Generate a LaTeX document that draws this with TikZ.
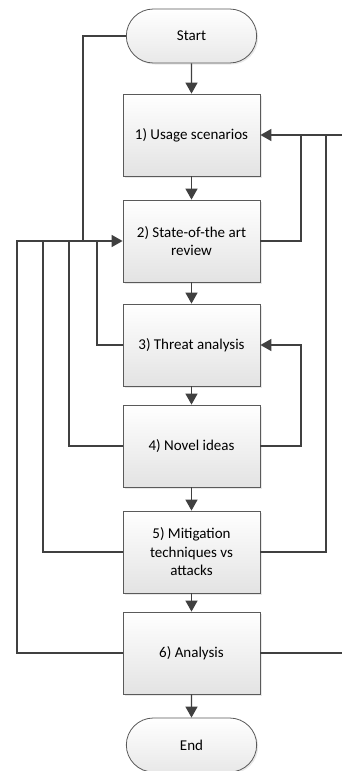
\documentclass[tikz,border=0pt]{standalone}
\usepackage{fontspec}
\setmainfont{Carlito}
\usetikzlibrary{arrows.meta,shapes.misc,shadows}
\definecolor{linegray}{HTML}{404040}
\definecolor{edgegray}{HTML}{5A5A5A}
\tikzset{
  stage/.style={rectangle, draw=edgegray, line width=0.8pt,
    top color=white, bottom color=black!11,
    minimum width=137pt, minimum height=82pt, align=center,
    font=\fontsize{15}{18.5}\selectfont, inner sep=2pt,
    drop shadow={shadow xshift=1.5pt, shadow yshift=-1.5pt, opacity=0.18}},
  terminal/.style={rounded rectangle, draw=edgegray, line width=0.8pt,
    top color=white, bottom color=black!9,
    minimum width=137pt, minimum height=54pt,
    font=\fontsize{15}{18.5}\selectfont,
    drop shadow={shadow xshift=1.5pt, shadow yshift=-1.5pt, opacity=0.18}},
  flow/.style={draw=linegray, line width=1.4pt},
  arr/.style={flow, -{Triangle[length=11pt, width=12pt]}},
}
\begin{document}
\begin{tikzpicture}[x=1pt, y=-1pt]
  \useasboundingbox (0,0) rectangle (342,771);
  \clip (0,0) rectangle (342,771);
  \fill[white] (0,0) rectangle (342,771);

  % process chain
  \node[terminal] (start) at (191.5,36) {Start};
  \node[stage] (s1) at (191.5,135) {1) Usage scenarios};
  \node[stage] (s2) at (191.5,241) {2) State-of-the art\\review};
  \node[stage] (s3) at (191.5,345) {3) Threat analysis};
  \node[stage] (s4) at (191.5,446) {4) Novel ideas};
  \node[stage] (s5) at (191.5,552) {5) Mitigation\\techniques vs\\attacks};
  \node[stage] (s6) at (191.5,653) {6) Analysis};
  \node[terminal] (end) at (191.5,745) {End};

  \draw[arr] (start) -- (s1);
  \draw[arr] (s1) -- (s2);
  \draw[arr] (s2) -- (s3);
  \draw[arr] (s3) -- (s4);
  \draw[arr] (s4) -- (s5);
  \draw[arr] (s5) -- (s6);
  \draw[arr] (s6) -- (end);

  % feedback loops on the left into stage 2
  \coordinate (l6) at (17,241);
  \coordinate (l5) at (43,241);
  \coordinate (l4) at (69,241);
  \coordinate (l0) at (83,241);
  \coordinate (l3) at (97,241);
  \draw[arr] (s6.west) -| (l6) -- (s2.west);
  \draw[flow] (s5.west) -| (l5);
  \draw[flow] (s4.west) -| (l4);
  \draw[flow] (start.west) -| (l0);
  \draw[flow] (s3.west) -| (l3);

  % feedback loops on the right into stage 1
  \coordinate (r2) at (301,135);
  \coordinate (r5) at (326,135);
  \coordinate (r6) at (352,135);
  \draw[arr] (s6.east) -| (r6) -- (s1.east);
  \draw[flow] (s2.east) -| (r2);
  \draw[flow] (s5.east) -| (r5);

  % loop from stage 4 back to stage 3
  \coordinate (r4) at (301,345);
  \draw[arr] (s4.east) -| (r4) -- (s3.east);
\end{tikzpicture}
\end{document}
